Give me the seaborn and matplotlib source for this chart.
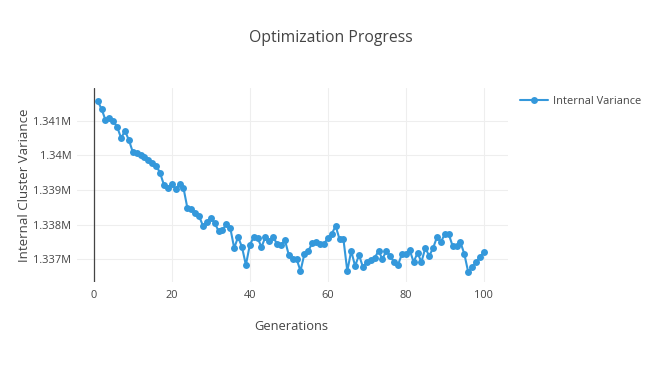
import numpy as np
import pandas as pd
import matplotlib
matplotlib.use("Agg")
import matplotlib.pyplot as plt
import seaborn as sns
from matplotlib.lines import Line2D

generations = list(range(1, 101))
variance = [
    1341569, 1341338, 1341020, 1341078, 1340991, 1340818, 1340501, 1340703, 1340443, 1340097,
    1340068, 1340010, 1339952, 1339866, 1339779, 1339707, 1339491, 1339144, 1339058, 1339173,
    1339029, 1339173, 1339058, 1338481, 1338452, 1338336, 1338250, 1337961, 1338076, 1338192,
    1338048, 1337817, 1337846, 1338019, 1337903, 1337326, 1337643, 1337354, 1336835, 1337412,
    1337643, 1337614, 1337354, 1337643, 1337528, 1337643, 1337441, 1337412, 1337557, 1337124,
    1337009, 1337009, 1336662, 1337153, 1337240, 1337470, 1337499, 1337441, 1337441, 1337614,
    1337730, 1337961, 1337586, 1337586, 1336662, 1337240, 1336807, 1337124, 1336778, 1336922,
    1336980, 1337037, 1337240, 1337009, 1337240, 1337095, 1336922, 1336835, 1337153, 1337153,
    1337268, 1336922, 1337182, 1336922, 1337326, 1337095, 1337326, 1337643, 1337499, 1337730,
    1337730, 1337384, 1337384, 1337499, 1337153, 1336633, 1336778, 1336922, 1337066, 1337210,
]
series_name = "Internal Variance"
title = "Optimization Progress"
x_label = "Generations"
y_label = "Internal Cluster Variance"
x_ticks = [0, 20, 40, 60, 80, 100]
y_ticks = [1337000, 1338000, 1339000, 1340000, 1341000]
y_tick_labels = ["1.337M", "1.338M", "1.339M", "1.34M", "1.341M"]

sns.set_theme(style="white")
plt.rcParams['font.family'] = ['Open Sans', 'DejaVu Sans']

W, H = 650, 392
fig = plt.figure(figsize=(W / 100, H / 100), dpi=100)
L, R, T, B = 77, 508, 88, 282
ax = fig.add_axes([L / W, 1 - B / H, (R - L) / W, (B - T) / H])

df = pd.DataFrame({"Generation": generations, "Variance": variance, "series": series_name})
color = "#3498db"
sns.lineplot(data=df, x="Generation", y="Variance", hue="series", palette=[color],
             marker="o", markersize=5, markeredgewidth=0, linewidth=1.5, ax=ax,
             legend=False, zorder=3)

ax.set_xlim(-4.3, 106.2)
ax.set_ylim(1336345, 1341944)
ax.set_xticks(x_ticks)
ax.set_yticks(y_ticks)
ax.set_yticklabels(y_tick_labels)
ax.grid(True, color="#eeeeee", linewidth=0.8, zorder=0)
ax.axvline(0, color="#444444", linewidth=0.9, zorder=2)
for s in ax.spines.values():
    s.set_visible(False)
ax.tick_params(axis="both", length=0, labelsize=7.9, colors="#444444")
ax.tick_params(axis="y", pad=4)
ax.tick_params(axis="x", pad=6)
ax.set_xlabel("")
ax.set_ylabel("")

fig.text(291 / W, 1 - 327 / H, x_label, ha="center", va="center", fontsize=9.3, color="#444444")
fig.text(24 / W, 1 - 185 / H, y_label, ha="center", va="center", rotation=90, fontsize=9.5, color="#444444")
fig.text(331 / W, 1 - 38 / H, title, ha="center", va="center", fontsize=11.3, color="#444444")

handle = Line2D([], [], color=color, marker="o", markersize=5, markeredgewidth=0, linewidth=1.5)
leg = fig.legend([handle], [series_name], loc="center left", bbox_to_anchor=(520 / W, 1 - 101 / H),
                 frameon=False, fontsize=7.9, handlelength=2.55, handletextpad=0.45,
                 borderaxespad=0, borderpad=0)
for t in leg.get_texts():
    t.set_color("#444444")

fig.savefig("out.png", dpi=100)
